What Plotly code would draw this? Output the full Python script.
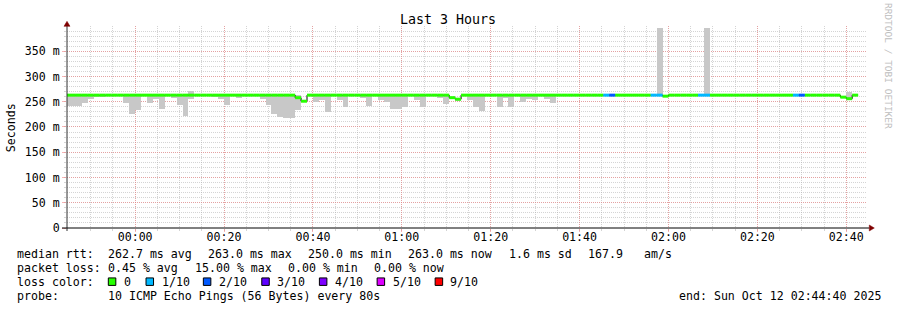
import plotly.graph_objects as go
import pandas as pd

# ---------------- data ----------------
START = "2025-10-11 23:44:40"
END = "2025-10-12 02:44:40"
STEP_SECONDS = 80

median_ms = [
    263, 263, 263, 263, 263, 263, 263, 263, 263, 263,
    263, 263, 263, 263, 263, 263, 263, 263, 263, 263,
    263, 263, 263, 263, 263, 263, 263, 263, 263, 263,
    263, 263, 263, 263, 263, 263, 263, 263, 263, 258,
    251, 263, 263, 263, 263, 263, 263, 263, 263, 263,
    263, 263, 263, 263, 263, 263, 263, 263, 263, 263,
    263, 263, 263, 263, 263, 258, 255, 263, 263, 263,
    263, 263, 263, 263, 263, 263, 263, 263, 263, 263,
    263, 263, 263, 263, 263, 263, 263, 263, 263, 263,
    263, 263, 263, 263, 263, 263, 263, 263, 263, 263,
    263, 261, 263, 263, 263, 263, 263, 263, 263, 263,
    263, 263, 263, 263, 263, 263, 263, 263, 263, 263,
    263, 263, 263, 263, 263, 263, 263, 263, 263, 263,
    263, 259, 256, 263, None, None,
]

loss_count = [
    0, 0, 0, 0, 0, 0, 0, 0, 0, 0,
    0, 0, 0, 0, 0, 0, 0, 0, 0, 0,
    0, 0, 0, 0, 0, 0, 0, 0, 0, 0,
    0, 0, 0, 0, 0, 0, 0, 0, 0, 0,
    0, 0, 0, 0, 0, 0, 0, 0, 0, 0,
    0, 0, 0, 0, 0, 0, 0, 0, 0, 0,
    0, 0, 0, 0, 0, 0, 0, 0, 0, 0,
    0, 0, 0, 0, 0, 0, 0, 0, 0, 0,
    0, 0, 0, 0, 0, 0, 0, 0, 0, 0,
    0, 1, 2, 0, 0, 0, 0, 0, 0, 1,
    1, 0, 0, 0, 0, 0, 0, 1, 1, 0,
    0, 0, 0, 0, 0, 0, 0, 0, 0, 0,
    0, 0, 0, 1, 2, 0, 0, 0, 0, 0,
    0, 0, 0, 0, 0, 0,
]

smoke_low_ms = [
    241, 241, 241, 248, 255, 259, 259, 263, 263, 263,
    247, 225, 233, 263, 248, 256, 236, 263, 257, 243,
    221, 255, 263, 263, 263, 259, 256, 244, 263, 257,
    263, 263, 263, 256, 243, 225, 219, 218, 217, 233,
    250, 263, 250, 254, 230, 263, 254, 240, 263, 263,
    258, 242, 263, 254, 250, 235, 236, 240, 263, 254,
    240, 263, 263, 258, 245, 256, 251, 263, 254, 240,
    232, 263, 263, 240, 257, 240, 263, 249, 256, 253,
    263, 256, 248, 263, 263, 263, 263, 263, 263, 263,
    263, 263, 263, 263, 263, 263, 263, 263, 263, 263,
    263, 261, 263, 263, 263, 263, 263, 263, 263, 263,
    263, 263, 263, 263, 263, 263, 263, 263, 263, 263,
    263, 263, 263, 263, 263, 263, 263, 263, 263, 263,
    263, 259, 256, 263, None, None,
]

smoke_high_ms = [
    263, 263, 263, 263, 263, 263, 263, 263, 263, 263,
    263, 263, 263, 263, 263, 263, 263, 263, 263, 263,
    263, 271, 263, 263, 263, 263, 263, 263, 263, 263,
    263, 263, 263, 263, 263, 263, 263, 263, 263, 263,
    252, 263, 263, 263, 263, 263, 263, 263, 263, 263,
    263, 263, 263, 263, 263, 263, 263, 263, 263, 263,
    263, 263, 263, 263, 263, 258, 255, 263, 263, 263,
    263, 263, 263, 263, 263, 263, 263, 263, 263, 263,
    263, 263, 263, 263, 263, 263, 263, 263, 263, 263,
    263, 263, 263, 263, 263, 263, 263, 263, 263, 263,
    395, 261, 263, 263, 263, 263, 263, 263, 395, 263,
    263, 263, 263, 263, 263, 263, 263, 263, 263, 263,
    263, 263, 263, 263, 263, 263, 263, 263, 263, 263,
    263, 259, 270, 263, None, None,
]

x_tick_vals = ["2025-10-12 00:00", "2025-10-12 00:20", "2025-10-12 00:40",
               "2025-10-12 01:00", "2025-10-12 01:20", "2025-10-12 01:40",
               "2025-10-12 02:00", "2025-10-12 02:20", "2025-10-12 02:40"]
x_tick_text = ["00:00", "00:20", "00:40", "01:00", "01:20", "01:40", "02:00", "02:20", "02:40"]
y_tick_vals = [0, 50, 100, 150, 200, 250, 300, 350]
y_tick_text = ["0", "50 m", "100 m", "150 m", "200 m", "250 m", "300 m", "350 m"]

loss_labels = ["0", "1/10", "2/10", "3/10", "4/10", "5/10", "9/10"]
loss_values = [0, 1, 2, 3, 4, 5, 9]
loss_palette = ["#26ff00", "#00b8ff", "#0059ff", "#5e00ff", "#7e00ff", "#dd00ff", "#ff0000"]

title_text = "Last 3 Hours"
y_title = "Seconds"
watermark = "RRDTOOL / TOBI OETIKER"
legend_rows = [
    [("median rtt:", 16), ("262.7 ms avg", 107.3), ("263.0 ms max", 207.3),
     ("250.0 ms min", 307.3), ("263.0 ms now", 407.3), ("1.6 ms sd", 508),
     ("167.9", 586.7), ("am/s", 642.7)],
    [("packet loss:", 16), ("0.45 % avg", 107.3), ("15.00 % max", 194),
     ("0.00 % min", 286.7), ("0.00 % now", 372.7)],
    [("loss color:", 16)],
    [("probe:", 16), ("10 ICMP Echo Pings (56 Bytes) every 80s", 107.3),
     ("end: Sun Oct 12 02:44:40 2025", 678)],
]
legend_row_y = [254.5, 268.5, 282.5, 296.5]
loss_square_x = [108.3, 146, 203.3, 261.7, 319.3, 377, 435]
loss_label_x = [122.7, 160.7, 218.3, 276, 334, 391.7, 449]

# ---------------- geometry (pixels) ----------------
W, H = 897, 310
L, R, T, B = 67, 866.7, 25.7, 228
PW, PH = R - L, B - T
Y_MAX = 399.9

def fx(x):
    return (x - L) / PW

def fy(y):
    return (B - y) / PH

MONO = "DejaVu Sans Mono"
SMOKE = "#c8c8c8"
MGRID = "rgba(240,120,120,0.55)"
GRID = "rgba(170,170,170,0.5)"

centers = pd.date_range(START, periods=len(median_ms), freq=f"{STEP_SECONDS}s")
half = pd.Timedelta(seconds=STEP_SECONDS / 2)

fig = go.Figure()

# smoke
sm_x, sm_base, sm_h = [], [], []
for c, lo, hi in zip(centers, smoke_low_ms, smoke_high_ms):
    if lo is None or hi is None or hi <= lo:
        continue
    sm_x.append(c)
    sm_base.append(lo)
    sm_h.append(hi - lo)
fig.add_trace(go.Bar(x=sm_x, y=sm_h, base=sm_base, width=STEP_SECONDS * 1000,
                     marker=dict(color=SMOKE, line=dict(width=0)), showlegend=False,
                     hoverinfo="skip"))

# black stepped median outline
valid = [k for k, m in enumerate(median_ms) if m is not None]
ex = [centers[k] - half for k in valid] + [centers[valid[-1]] + half]
ey = [median_ms[k] for k in valid] + [median_ms[valid[-1]]]
fig.add_trace(go.Scatter(x=ex, y=ey, mode="lines", line=dict(color="#000000", width=1, shape="hv"),
                         showlegend=False, hoverinfo="skip"))

# coloured median by loss
for lv, col in zip(loss_values, loss_palette):
    xs, ys = [], []
    for k in valid:
        if loss_count[k] == lv:
            xs += [centers[k] - half, centers[k] + half, None]
            ys += [median_ms[k], median_ms[k], None]
    if xs:
        fig.add_trace(go.Scatter(x=xs, y=ys, mode="lines", line=dict(color=col, width=3),
                                 showlegend=False, hoverinfo="skip"))

minor_x = list(pd.date_range("2025-10-11 23:50", "2025-10-12 02:40", freq="5min"))

fig.update_layout(
    width=W, height=H,
    margin=dict(l=L, r=W - R, t=T, b=H - B, pad=0),
    paper_bgcolor="white", plot_bgcolor="white",
    barmode="overlay", bargap=0,
    showlegend=False,
    font=dict(family=MONO, size=11.6, color="black"),
    xaxis=dict(type="date", range=[START, END], tickmode="array",
               tickvals=x_tick_vals, ticktext=x_tick_text,
               showgrid=True, gridcolor=MGRID, griddash="1px,1px", gridwidth=1,
               ticks="outside", ticklen=3, tickcolor=MGRID, tickwidth=1,
               ticklabelstandoff=-5,
               tickfont=dict(family=MONO, size=11.6, color="black"),
               showline=False, zeroline=False,
               minor=dict(tickmode="array", tickvals=minor_x, showgrid=True,
                          gridcolor=GRID, griddash="1px,1px", gridwidth=1,
                          ticks="outside", ticklen=2, tickcolor=GRID)),
    yaxis=dict(range=[0, Y_MAX], tickmode="array", tickvals=y_tick_vals, ticktext=y_tick_text,
               showgrid=True, gridcolor=MGRID, griddash="1px,1px", gridwidth=1,
               ticks="outside", ticklen=4, tickcolor=MGRID, tickwidth=1,
               tickfont=dict(family=MONO, size=11.6, color="black"),
               showline=False, zeroline=False,
               minor=dict(tickmode="linear", tick0=0, dtick=10, showgrid=True,
                          gridcolor=GRID, griddash="1px,1px", gridwidth=1,
                          ticks="outside", ticklen=2, tickcolor=GRID)),
)

shapes = []
# axis lines
shapes.append(dict(type="line", xref="paper", yref="paper", x0=fx(67), x1=fx(67), y0=fy(231), y1=fy(24),
                   line=dict(color="#303030", width=1)))
shapes.append(dict(type="line", xref="paper", yref="paper", x0=fx(62), x1=fx(869), y0=fy(228), y1=fy(228),
                   line=dict(color="#000000", width=1)))
# arrows
shapes.append(dict(type="path", xref="paper", yref="paper",
                   path=f"M {fx(64)},{fy(26)} L {fx(70)},{fy(26)} L {fx(67)},{fy(21)} Z",
                   fillcolor="#7f0000", line=dict(color="#7f0000", width=0.5)))
shapes.append(dict(type="path", xref="paper", yref="paper",
                   path=f"M {fx(869)},{fy(225)} L {fx(869)},{fy(231)} L {fx(874)},{fy(228)} Z",
                   fillcolor="#7f0000", line=dict(color="#7f0000", width=0.5)))
# loss colour squares
for sx, col in zip(loss_square_x, loss_palette):
    shapes.append(dict(type="rect", xref="paper", yref="paper",
                       x0=fx(sx), x1=fx(sx + 7.5), y0=fy(278), y1=fy(285.5),
                       fillcolor=col, line=dict(color="#000000", width=1)))
fig.update_layout(shapes=shapes)

ann = []
ann.append(dict(text=title_text, x=fx(448), y=fy(19.5), xref="paper", yref="paper",
                xanchor="center", yanchor="middle", showarrow=False,
                font=dict(family=MONO, size=13.3, color="black")))
ann.append(dict(text=y_title, x=fx(11), y=fy(127), xref="paper", yref="paper",
                xanchor="center", yanchor="middle", showarrow=False, textangle=-90,
                font=dict(family=MONO, size=11.6, color="black")))
ann.append(dict(text=watermark, x=fx(888), y=fy(66), xref="paper", yref="paper",
                xanchor="center", yanchor="middle", showarrow=False, textangle=90,
                font=dict(family=MONO, size=9.5, color="#bdbdbd")))
for row, ry in zip(legend_rows, legend_row_y):
    for txt, tx in row:
        ann.append(dict(text=txt, x=fx(tx), y=fy(ry), xref="paper", yref="paper",
                        xanchor="left", yanchor="middle", showarrow=False, borderpad=0,
                        font=dict(family=MONO, size=11.6, color="black")))
for lbl, lx in zip(loss_labels, loss_label_x):
    ann.append(dict(text=lbl, x=fx(lx), y=fy(legend_row_y[2]), xref="paper", yref="paper",
                    xanchor="left", yanchor="middle", showarrow=False, borderpad=0,
                    font=dict(family=MONO, size=11.6, color="black")))
fig.update_layout(annotations=ann)

fig.write_html("out.html")
